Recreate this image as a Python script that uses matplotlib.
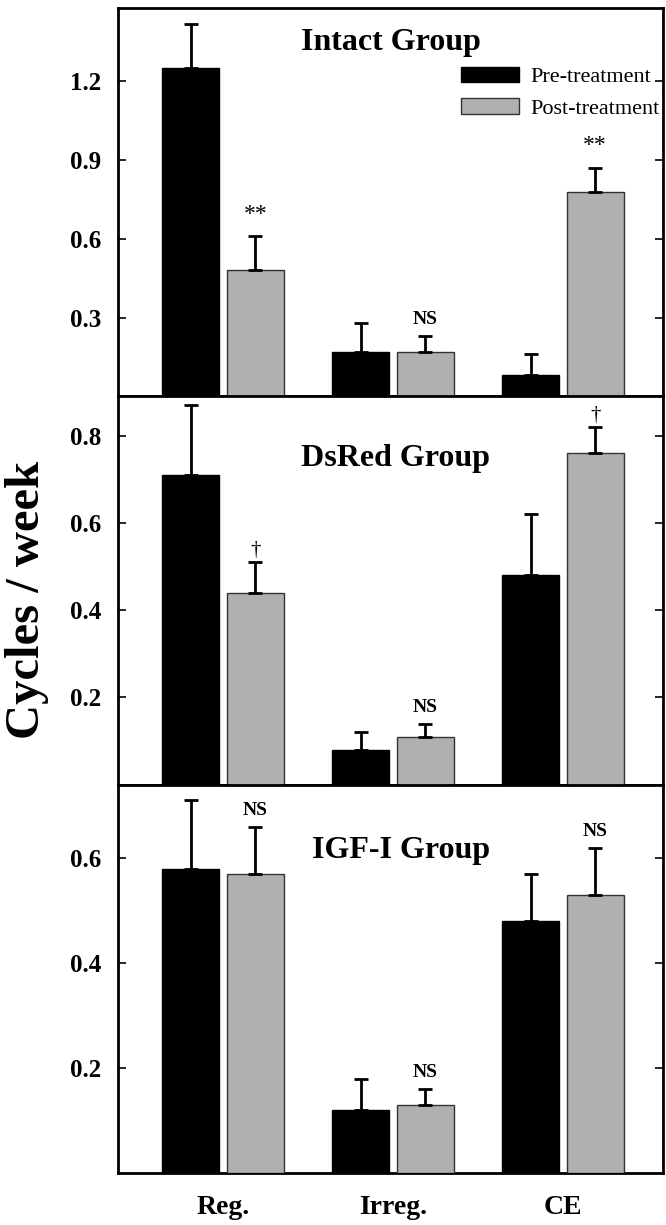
import numpy as np
import matplotlib
matplotlib.use("Agg")
import matplotlib.pyplot as plt

plt.rcParams['font.family'] = ['Liberation Serif', 'DejaVu Serif']

# --- data ---
categories = ["Reg.", "Irreg.", "CE"]
groups = ["Intact Group", "DsRed Group", "IGF-I Group"]

pre_mean = [[1.25, 0.17, 0.08], [0.71, 0.08, 0.48], [0.58, 0.12, 0.48]]
pre_top = [[1.42, 0.28, 0.16], [0.87, 0.12, 0.62], [0.71, 0.18, 0.57]]
post_mean = [[0.48, 0.17, 0.78], [0.44, 0.11, 0.76], [0.57, 0.13, 0.53]]
post_top = [[0.61, 0.23, 0.87], [0.51, 0.14, 0.82], [0.66, 0.16, 0.62]]
marks = [["**", "NS", "**"], ["\u2020", "NS", "\u2020"], ["NS", "NS", "NS"]]

ytops = [1.48, 0.89, 0.74]
yticks = [[0.3, 0.6, 0.9, 1.2], [0.2, 0.4, 0.6, 0.8], [0.2, 0.4, 0.6]]

# --- figure ---
fig = plt.figure(figsize=(6.66, 12.25), dpi=100)
left, right = 0.177, 0.9955
bottom, top = 0.0424, 0.9935
h = (top - bottom) / 3

x = np.arange(len(categories))
w = 0.335
off = 0.19

for i in range(3):
    ax = fig.add_axes([left, top - (i + 1) * h, right - left, h])
    pre = np.array(pre_mean[i])
    post = np.array(post_mean[i])
    pre_err = np.array(pre_top[i]) - pre
    post_err = np.array(post_top[i]) - post

    ax.bar(x - off, pre, w, color="black", edgecolor="black", linewidth=1,
           yerr=[np.zeros(3), pre_err], capsize=5,
           error_kw=dict(elinewidth=2, capthick=2, ecolor="black"),
           label="Pre-treatment", zorder=3)
    ax.bar(x + off, post, w, color="#b0b0b0", edgecolor="#333333", linewidth=1,
           yerr=[np.zeros(3), post_err], capsize=5,
           error_kw=dict(elinewidth=2, capthick=2, ecolor="black"),
           label="Post-treatment", zorder=3)

    # significance marks
    for j in range(3):
        m = marks[i][j]
        if m == "**":
            ax.text(x[j] + off, post_top[i][j] + 0.03 * ytops[i], m, ha="center",
                    va="bottom", fontsize=17)
        elif m == "NS":
            ax.text(x[j] + off, post_top[i][j] + 0.02 * ytops[i], m, ha="center",
                    va="bottom", fontsize=14, fontweight="bold")
        else:
            ax.text(x[j] + off, post_top[i][j] + 0.005 * ytops[i], m, ha="center",
                    va="bottom", fontsize=15)

    ax.set_xlim(-0.62, 2.59)
    ax.set_ylim(0, ytops[i])
    ax.set_yticks(yticks[i])
    ax.set_yticklabels([f"{t:.1f}" for t in yticks[i]], fontsize=18, fontweight="bold")
    ax.tick_params(axis="y", direction="in", length=6, width=1.2, right=True, pad=12)
    ax.set_xticks(x)
    ax.tick_params(axis="x", length=0)
    if i < 2:
        ax.set_xticklabels([])
    else:
        ax.set_xticklabels(categories, fontsize=20, fontweight="bold")
        ax.tick_params(axis="x", pad=16)
    for s in ax.spines.values():
        s.set_linewidth(2)

    title_y = [0.91, 0.84, 0.83][i]
    title_x = [0.50, 0.51, 0.52][i]
    ax.text(title_x, title_y, groups[i], transform=ax.transAxes, ha="center",
            va="center", fontsize=23, fontweight="bold")

    if i == 0:
        ax.legend(loc="upper right", bbox_to_anchor=(1.03, 0.90), frameon=False,
                  fontsize=16, handlelength=2.6, handleheight=0.7,
                  labelspacing=0.5, handletextpad=0.5)

fig.text(0.04, 0.51, "Cycles / week", rotation=90, ha="center", va="center",
         fontsize=35, fontweight="bold")

plt.savefig("out.png", dpi=100)
plt.close()
